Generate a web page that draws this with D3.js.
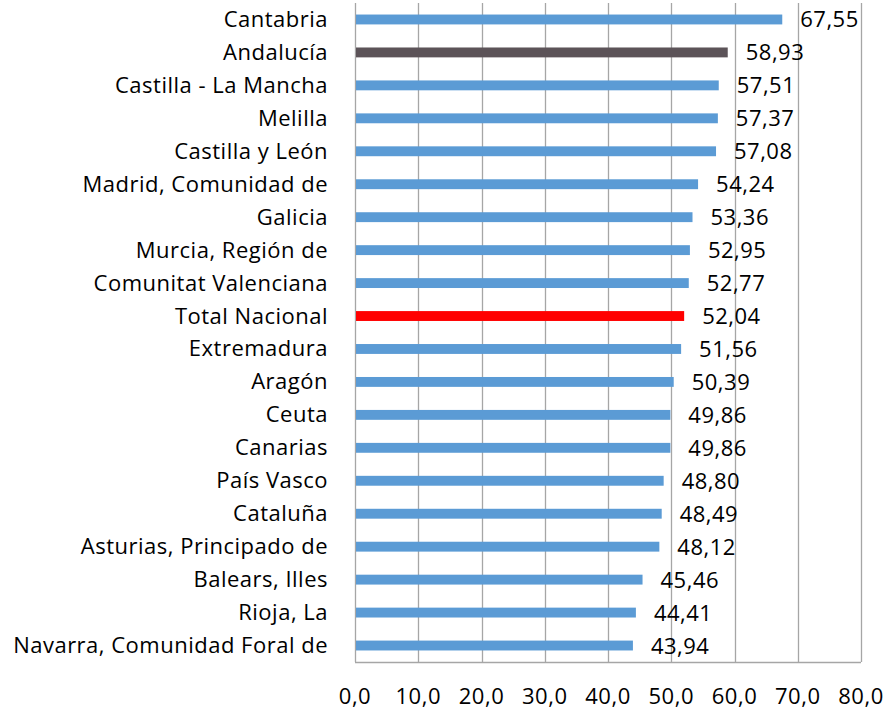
<!DOCTYPE html>
<html>
<head>
<meta charset="utf-8">
<script src="https://cdn.jsdelivr.net/npm/d3@7"></script>
<style>
  body { margin: 0; background: #fff; }
  text { font-family: "Open Sans", sans-serif; fill: #000; font-size: 22px; letter-spacing: 0.5px; }
</style>
</head>
<body>
<svg width="890" height="713"></svg>
<script>
// regions, top to bottom
const regions = ['Cantabria', 'Andalucía', 'Castilla - La Mancha', 'Melilla', 'Castilla y León',
  'Madrid, Comunidad de', 'Galicia', 'Murcia, Región de', 'Comunitat Valenciana', 'Total Nacional',
  'Extremadura', 'Aragón', 'Ceuta', 'Canarias', 'País Vasco', 'Cataluña',
  'Asturias, Principado de', 'Balears, Illes', 'Rioja, La', 'Navarra, Comunidad Foral de'];
const values = [67.55, 58.93, 57.51, 57.37, 57.08, 54.24, 53.36, 52.95, 52.77, 52.04,
  51.56, 50.39, 49.86, 49.86, 48.80, 48.49, 48.12, 45.46, 44.41, 43.94];
const ticks = [0, 10, 20, 30, 40, 50, 60, 70, 80];

const svg = d3.select('svg');
const plotLeft = 355, plotRight = 861, plotTop = 3, plotBottom = 662;

const x = d3.scaleLinear().domain([0, 80]).range([plotLeft, plotRight]);
const y = d3.scaleBand().domain(regions).range([plotTop, plotBottom]).paddingInner(0.7).paddingOuter(0.35);

const fmt = v => v.toFixed(2).replace('.', ',');
const barColor = name => name === 'Andalucía' ? '#5c5358' : name === 'Total Nacional' ? '#ff0000' : '#5b9bd5';

// gridlines
svg.append('g')
  .selectAll('line')
  .data(ticks)
  .enter()
  .append('line')
  .attr('x1', d => Math.round(x(d)) + 0.5)
  .attr('x2', d => Math.round(x(d)) + 0.5)
  .attr('y1', plotTop)
  .attr('y2', plotBottom)
  .style('stroke', '#a6a6a6')
  .style('stroke-width', 1.3);

// bottom axis line
svg.append('line')
  .attr('x1', plotLeft).attr('x2', plotRight)
  .attr('y1', plotBottom + 0.5).attr('y2', plotBottom + 0.5)
  .style('stroke', '#a6a6a6')
  .style('stroke-width', 1.3);

// bars
svg.append('g')
  .selectAll('rect')
  .data(regions)
  .enter()
  .append('rect')
  .attr('x', x(0) + 1)
  .attr('y', d => y(d))
  .attr('width', (d, i) => x(values[i]) - x(0) - 1)
  .attr('height', y.bandwidth())
  .style('fill', barColor);

// value labels
svg.append('g')
  .selectAll('text')
  .data(regions)
  .enter()
  .append('text')
  .attr('x', (d, i) => x(values[i]) + 18)
  .attr('y', d => y(d) + y.bandwidth() / 2 + 8)
  .text((d, i) => fmt(values[i]));

// category labels
svg.append('g')
  .selectAll('text')
  .data(regions)
  .enter()
  .append('text')
  .attr('x', 328)
  .attr('y', d => y(d) + y.bandwidth() / 2 + 7.5)
  .attr('text-anchor', 'end')
  .text(d => d);

// tick labels
svg.append('g')
  .selectAll('text')
  .data(ticks)
  .enter()
  .append('text')
  .attr('x', d => x(d))
  .attr('y', 704)
  .attr('text-anchor', 'middle')
  .text(d => d.toFixed(1).replace('.', ','));
</script>
</body>
</html>
